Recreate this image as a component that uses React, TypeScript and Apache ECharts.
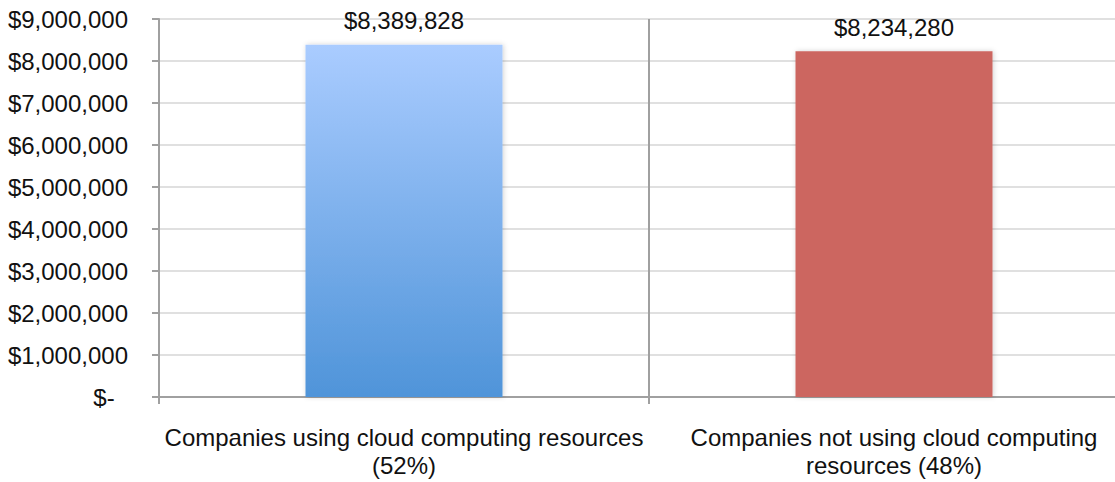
import React, { useEffect, useRef } from "react";
import * as echarts from "echarts";

const categories = [
  "Companies using cloud computing resources\n(52%)",
  "Companies not using cloud computing\nresources (48%)",
];
const values = [8389828, 8234280];
const yTicks = { min: 0, max: 9000000, interval: 1000000 };

const fmt = (v: number) => "$" + v.toLocaleString("en-US");

export default function App() {
  const ref = useRef<HTMLDivElement>(null);
  useEffect(() => {
    if (!ref.current) return;
    const chart = echarts.init(ref.current, null, { renderer: "svg" });
    const font = "Liberation Sans, Arial, sans-serif";
    chart.setOption({
      animation: false,
      grid: { left: 159, top: 19, bottom: 85, right: 0, containLabel: false },
      xAxis: {
        type: "category",
        data: categories,
        boundaryGap: true,
        axisLine: { show: true, lineStyle: { color: "#a0a0a0", width: 2 } },
        axisTick: { show: true, length: 7, interval: 0, alignWithLabel: false, lineStyle: { color: "#a0a0a0", width: 2 } },
        splitLine: { show: true, interval: 0, lineStyle: { color: "#a0a0a0", width: 2 } },
        axisLabel: {
          interval: 0,
          margin: 26,
          color: "#111",
          fontSize: 24,
          lineHeight: 28,
          fontFamily: font,
          align: "center",
        },
      },
      yAxis: {
        type: "value",
        min: yTicks.min,
        max: yTicks.max,
        interval: yTicks.interval,
        axisLine: { show: true, lineStyle: { color: "#a0a0a0", width: 2 } },
        axisTick: { show: true, length: 7, lineStyle: { color: "#a0a0a0", width: 2 } },
        splitLine: { show: true, lineStyle: { color: "#e0e0e0", width: 2 } },
        axisLabel: {
          margin: 31,
          color: "#111",
          fontSize: 24,
          fontFamily: font,
          formatter: (v: number) => (v === 0 ? "$-  " : fmt(v)),
        },
      },
      series: [
        {
          type: "bar",
          barWidth: 197,
          data: values.map((v, i) => ({
            value: v,
            itemStyle:
              i === 0
                ? {
                    color: new echarts.graphic.LinearGradient(0, 0, 0, 1, [
                      { offset: 0, color: "#aaccff" },
                      { offset: 1, color: "#4f94d9" },
                    ]),
                  }
                : { color: "#cc6660" },
          })),
          itemStyle: {
            shadowBlur: 5,
            shadowColor: "rgba(0,0,0,0.18)",
            shadowOffsetX: 1,
            shadowOffsetY: 0,
          },
          label: {
            show: true,
            position: "top",
            distance: 12,
            color: "#111",
            fontSize: 24,
            fontFamily: font,
            formatter: (p: any) => fmt(p.value),
          },
        },
      ],
    });
    return () => chart.dispose();
  }, []);
  return (
    <div
      style={{ position: "fixed", left: 0, top: 0, width: 1115, height: 482, overflow: "hidden", background: "#fff" }}
    >
      <div ref={ref} style={{ width: 1139, height: 482 }} />
    </div>
  );
}
